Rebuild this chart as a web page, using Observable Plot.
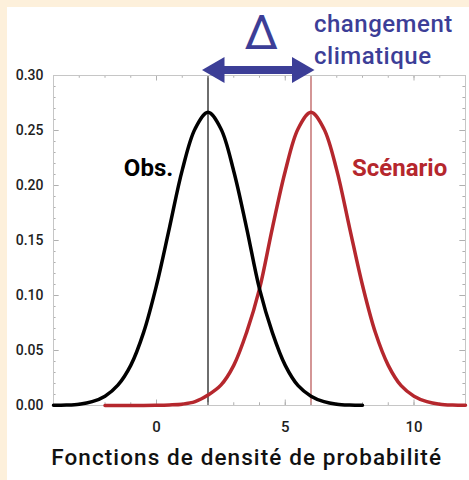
<!DOCTYPE html>
<html><head><meta charset="utf-8">
<script src="https://cdn.jsdelivr.net/npm/d3@7"></script>
<script src="https://cdn.jsdelivr.net/npm/@observablehq/plot@0.6"></script>
<style>
html,body{margin:0;padding:0;background:#fdf0db;width:469px;height:480px;overflow:hidden;}
#panel{position:absolute;left:7px;top:7px;width:462px;height:473px;background:#fff;}
#chart{position:absolute;left:0;top:0;}
</style></head><body><div id="panel"></div><div id="chart"></div>
<script>
// Observed distribution (black)
const obsX = [-4,-3.5,-3,-2.5,-2,-1.5,-1,-0.5,0,0.5,1,1.5,2,2.5,3,3.5,4,4.5,5,5.5,6,6.5,7,7.5,8];
const obsY = [0.0002,0.0004,0.0012,0.0035,0.0085,0.0185,0.0365,0.0665,0.1093,0.1613,0.2140,0.2516,0.2665,0.2516,0.2130,0.1613,0.1060,0.0663,0.0365,0.0180,0.0085,0.0035,0.0012,0.0004,0.0002];
// Scenario distribution (red)
const scenX = [-2,-1.5,-1,-0.5,0,0.5,1,1.5,2,2.5,3,3.5,4,4.5,5,5.5,6,6.5,7,7.5,8,8.5,9,9.5,10,10.5,11,11.5,12];
const scenY = [0.0000,0.0000,0.0000,0.0001,0.0002,0.0005,0.0012,0.0035,0.0095,0.0185,0.0365,0.0665,0.1060,0.1613,0.2130,0.2516,0.2665,0.2516,0.2140,0.1613,0.1093,0.0663,0.0365,0.0180,0.0085,0.0035,0.0012,0.0004,0.0002];
const means = [2, 6];           // Obs., Scénario
const xTickValues = [0, 5, 10];
const xTickLabels = ["0", "5", "10"];
const yTickValues = [0, 0.05, 0.10, 0.15, 0.20, 0.25, 0.30];
const yTickLabels = ["0.00", "0.05", "0.10", "0.15", "0.20", "0.25", "0.30"];
const xMinorTicks = [-3,-2,-1,0,1,2,3,4,5,6,7,8,9,10,11];
const xMajorTicks = [0, 5, 10];
const yMinorTicks = [0.01,0.02,0.03,0.04,0.06,0.07,0.08,0.09,0.11,0.12,0.13,0.14,0.16,0.17,0.18,0.19,0.21,0.22,0.23,0.24,0.26,0.27,0.28,0.29];
const yMajorTicks = [0.05, 0.10, 0.15, 0.20, 0.25];
const seriesLabels = ["Obs.", "Scénario"];
const deltaLabel = "Δ";
const changeLabel = ["changement", "climatique"];
const xTitle = "Fonctions de densité de probabilité";

const obs = obsX.map((x, i) => ({x, y: obsY[i]}));
const scen = scenX.map((x, i) => ({x, y: scenY[i]}));

const FONT = "Roboto, 'DejaVu Sans', sans-serif";
const BLUE = "#3c3e97";
const RED = "#b5272d";
const TICK = "#b0b0b0";
const arrowY = 0.305;

const xMin = -4, xMax = 12, yMax = 0.30;

const plot = Plot.plot({
  width: 469,
  height: 480,
  marginLeft: 53,
  marginRight: 4,
  marginTop: 75,
  marginBottom: 75,
  style: {background: "transparent", fontFamily: FONT},
  x: {domain: [xMin, xMax], axis: null},
  y: {domain: [0, yMax], axis: null},
  marks: [
    // mean lines
    Plot.ruleX([means[0]], {y1: 0, y2: yMax, stroke: "#4a4a4a", strokeWidth: 1.6}),
    Plot.ruleX([means[1]], {y1: 0, y2: yMax, stroke: "#c97b7b", strokeWidth: 1.6}),
    // ticks (inside frame)
    Plot.ruleX(xMinorTicks, {y1: 0, y2: 0.0025, stroke: TICK}),
    Plot.ruleX(xMajorTicks, {y1: 0, y2: 0.005, stroke: TICK}),
    Plot.ruleX(xMinorTicks, {y1: yMax, y2: yMax - 0.0025, stroke: TICK}),
    Plot.ruleX(xMajorTicks, {y1: yMax, y2: yMax - 0.005, stroke: TICK}),
    Plot.ruleY(yMinorTicks, {x1: xMin, x2: xMin + 0.1, stroke: TICK}),
    Plot.ruleY(yMajorTicks, {x1: xMin, x2: xMin + 0.22, stroke: TICK}),
    Plot.ruleY(yMinorTicks, {x1: xMax, x2: xMax - 0.1, stroke: TICK}),
    Plot.ruleY(yMajorTicks, {x1: xMax, x2: xMax - 0.22, stroke: TICK}),
    Plot.frame({stroke: "#c6c6c6"}),
    // curves
    Plot.line(scen, {x: "x", y: "y", stroke: RED, strokeWidth: 3.5, curve: "catmull-rom"}),
    Plot.line(obs, {x: "x", y: "y", stroke: "#000", strokeWidth: 3.5, curve: "catmull-rom"}),
    // tick labels
    Plot.text(yTickValues, {x: xMin, y: d => d, text: (d, i) => yTickLabels[i], dx: -10, textAnchor: "end", fontSize: 14, fontWeight: 500, fill: "#1e1e1e"}),
    Plot.text(xTickValues, {x: d => d, y: 0, text: (d, i) => xTickLabels[i], dy: 22, fontSize: 15, fontWeight: 500, fill: "#1e1e1e"}),
    // x title
    Plot.text([xTitle], {x: 3.5, y: 0, text: d => d, dy: 52, fontSize: 22.5, fontWeight: 500, fill: "#111"}),
    // series labels
    Plot.text([seriesLabels[0]], {x: -0.31, y: 0.209, text: d => d, lineAnchor: "bottom", fontSize: 24, fontWeight: "bold", fill: "#000"}),
    Plot.text([seriesLabels[1]], {x: 9.44, y: 0.209, text: d => d, lineAnchor: "bottom", fontSize: 24, fontWeight: "bold", fill: RED}),
    // delta arrow
    Plot.ruleY([arrowY], {x1: means[0], x2: means[1], stroke: BLUE, strokeWidth: 8, insetLeft: 10, insetRight: 10}),
    Plot.dot([means[0]], {x: d => d, y: arrowY, dx: 9, symbol: "triangle2", r: 12.4, rotate: -90, fill: BLUE, stroke: null}),
    Plot.dot([means[1]], {x: d => d, y: arrowY, dx: -11.5, symbol: "triangle2", r: 12.4, rotate: 90, fill: BLUE, stroke: null}),
    Plot.text([deltaLabel], {x: (means[0] + means[1]) / 2, y: 0.3245, dx: 2, text: d => d, lineAnchor: "bottom", fontSize: 48, fontWeight: 400, fill: BLUE}),
    Plot.text([changeLabel[0]], {x: means[1], y: 0.3391, dx: 3, text: d => d, textAnchor: "start", lineAnchor: "bottom", fontSize: 24, fontWeight: 500, fill: BLUE}),
    Plot.text([changeLabel[1]], {x: means[1], y: 0.3109, dx: 3, text: d => d, textAnchor: "start", lineAnchor: "bottom", fontSize: 24, fontWeight: 500, fill: BLUE})
  ]
});
// slightly wider letter spacing to match the original DIN-style lettering
d3.select(plot).selectAll("text")
  .filter(function() { return this.textContent === xTitle; })
  .attr("letter-spacing", "1.1px");
d3.select(plot).selectAll("text")
  .filter(function() { return changeLabel.includes(this.textContent); })
  .attr("letter-spacing", "0.5px");
document.getElementById("chart").appendChild(plot);
</script>
</body></html>
